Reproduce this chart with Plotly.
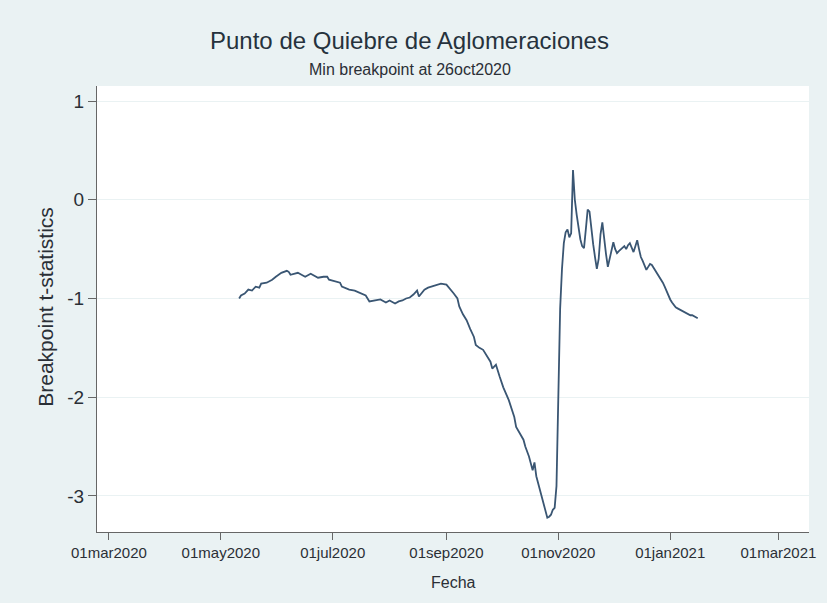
import plotly.graph_objects as go

# breakpoint t-statistic by date
fechas = [
    "2020-05-11", "2020-05-12", "2020-05-14", "2020-05-16", "2020-05-18", "2020-05-20",
    "2020-05-22", "2020-05-23", "2020-05-26", "2020-05-29", "2020-05-31", "2020-06-03",
    "2020-06-06", "2020-06-07", "2020-06-08", "2020-06-10", "2020-06-12", "2020-06-14",
    "2020-06-16", "2020-06-19", "2020-06-21", "2020-06-23", "2020-06-26", "2020-06-28",
    "2020-06-29", "2020-07-03", "2020-07-05", "2020-07-06", "2020-07-10", "2020-07-13",
    "2020-07-17", "2020-07-19", "2020-07-21", "2020-07-24", "2020-07-27", "2020-07-30",
    "2020-08-01", "2020-08-02", "2020-08-04", "2020-08-06", "2020-08-08", "2020-08-10",
    "2020-08-12", "2020-08-14", "2020-08-16", "2020-08-17", "2020-08-20", "2020-08-22",
    "2020-08-24", "2020-08-27", "2020-08-29", "2020-09-01", "2020-09-03", "2020-09-05",
    "2020-09-07", "2020-09-08", "2020-09-10", "2020-09-12", "2020-09-14", "2020-09-16",
    "2020-09-17", "2020-09-19", "2020-09-21", "2020-09-23", "2020-09-25", "2020-09-26",
    "2020-09-28", "2020-09-30", "2020-10-02", "2020-10-05", "2020-10-08", "2020-10-09",
    "2020-10-11", "2020-10-13", "2020-10-14", "2020-10-16", "2020-10-18", "2020-10-19",
    "2020-10-20", "2020-10-21", "2020-10-23", "2020-10-25", "2020-10-26", "2020-10-27",
    "2020-10-28", "2020-10-29", "2020-10-30", "2020-10-31", "2020-11-01", "2020-11-02",
    "2020-11-03", "2020-11-04", "2020-11-05", "2020-11-06", "2020-11-07", "2020-11-08",
    "2020-11-09", "2020-11-10", "2020-11-11", "2020-11-12", "2020-11-13", "2020-11-14",
    "2020-11-15", "2020-11-16", "2020-11-17", "2020-11-18", "2020-11-19", "2020-11-20",
    "2020-11-21", "2020-11-22", "2020-11-23", "2020-11-24", "2020-11-25", "2020-11-26",
    "2020-11-27", "2020-11-28", "2020-11-29", "2020-11-30", "2020-12-01", "2020-12-02",
    "2020-12-03", "2020-12-04", "2020-12-05", "2020-12-06", "2020-12-07", "2020-12-08",
    "2020-12-09", "2020-12-10", "2020-12-11", "2020-12-12", "2020-12-13", "2020-12-14",
    "2020-12-15", "2020-12-16", "2020-12-17", "2020-12-18", "2020-12-19", "2020-12-20",
    "2020-12-21", "2020-12-22", "2020-12-23", "2020-12-24", "2020-12-25", "2020-12-26",
    "2020-12-27", "2020-12-28", "2020-12-29", "2020-12-30", "2020-12-31", "2021-01-01",
    "2021-01-02", "2021-01-03", "2021-01-04", "2021-01-05", "2021-01-06", "2021-01-07",
    "2021-01-08", "2021-01-09", "2021-01-10", "2021-01-11", "2021-01-12", "2021-01-13",
    "2021-01-14", "2021-01-15", "2021-01-16",
]
tstat = [
    -1.00, -0.97, -0.95, -0.91, -0.92, -0.88,
    -0.89, -0.85, -0.84, -0.81, -0.78, -0.74,
    -0.72, -0.73, -0.76, -0.75, -0.74, -0.76,
    -0.78, -0.75, -0.77, -0.79, -0.78, -0.78,
    -0.81, -0.83, -0.84, -0.88, -0.91, -0.92,
    -0.95, -0.97, -1.03, -1.02, -1.01, -1.04,
    -1.02, -1.03, -1.05, -1.03, -1.02, -1.00,
    -0.99, -0.96, -0.92, -0.98, -0.91, -0.89,
    -0.88, -0.86, -0.85, -0.86, -0.90, -0.95,
    -1.00, -1.08, -1.16, -1.22, -1.31, -1.39,
    -1.47, -1.50, -1.52, -1.58, -1.64, -1.71,
    -1.67, -1.79, -1.90, -2.03, -2.20, -2.30,
    -2.37, -2.43, -2.50, -2.60, -2.74, -2.66,
    -2.80, -2.87, -3.00, -3.15, -3.22, -3.21,
    -3.19, -3.14, -3.12, -2.90, -2.00, -1.10,
    -0.70, -0.44, -0.33, -0.30, -0.38, -0.34,
    0.30, 0.00, -0.15, -0.28, -0.40, -0.47,
    -0.49, -0.30, -0.10, -0.12, -0.30, -0.45,
    -0.58, -0.70, -0.60, -0.35, -0.23, -0.42,
    -0.55, -0.68, -0.60, -0.50, -0.43, -0.50,
    -0.54, -0.52, -0.50, -0.49, -0.47, -0.50,
    -0.46, -0.44, -0.48, -0.53, -0.47, -0.41,
    -0.50, -0.58, -0.62, -0.66, -0.71, -0.68,
    -0.65, -0.66, -0.69, -0.72, -0.74, -0.78,
    -0.81, -0.84, -0.88, -0.93, -0.97, -1.01,
    -1.04, -1.07, -1.09, -1.10, -1.11, -1.12,
    -1.13, -1.14, -1.15, -1.16, -1.17, -1.17,
    -1.18, -1.19, -1.20,
]

x_ticks = ["2020-03-01", "2020-05-01", "2020-07-01", "2020-09-01",
           "2020-11-01", "2021-01-01", "2021-03-01"]
x_labels = ["01mar2020", "01may2020", "01jul2020", "01sep2020",
            "01nov2020", "01jan2021", "01mar2021"]
y_ticks = [-3, -2, -1, 0, 1]
y_labels = ["-3", "-2", "-1", "0", "1"]

fuente = "Liberation Sans, Arial, sans-serif"
texto = "#2a2f36"

fig = go.Figure()
fig.add_trace(go.Scatter(
    x=fechas, y=tstat, mode="lines",
    line=dict(color="#3a5673", width=1.8),
    hoverinfo="x+y", showlegend=False,
))

fig.update_layout(
    width=827, height=603,
    paper_bgcolor="#eaf2f3",
    plot_bgcolor="white",
    margin=dict(l=97, r=11, t=86, b=71),
    font=dict(family=fuente, color=texto),
    annotations=[
        dict(text="Punto de Quiebre de Aglomeraciones", xref="paper", yref="paper",
             x=0.4395, y=1.103, showarrow=False, xanchor="center", yanchor="middle",
             font=dict(size=24, color="#26323d")),
        dict(text="Min breakpoint at 26oct2020", xref="paper", yref="paper",
             x=0.4395, y=1.038, showarrow=False, xanchor="center", yanchor="middle",
             font=dict(size=16, color=texto)),
        dict(text="Breakpoint t-statistics", xref="paper", yref="paper",
             x=-0.0723, y=0.504, showarrow=False, textangle=-90,
             xanchor="center", yanchor="middle", font=dict(size=21, color=texto)),
        dict(text="Fecha", xref="paper", yref="paper",
             x=0.5, y=-0.114, showarrow=False, xanchor="center", yanchor="middle",
             font=dict(size=16, color=texto)),
    ],
)

fig.update_xaxes(
    type="date",
    range=["2020-02-23 12:00", "2021-03-17 16:00"],
    tickvals=x_ticks, ticktext=x_labels,
    ticks="outside", ticklen=7, tickcolor="#666666",
    tickfont=dict(size=15, color=texto),
    showgrid=False, zeroline=False,
    showline=True, linecolor="#666666", linewidth=1,
)
fig.update_yaxes(
    range=[-3.365, 1.152],
    tickvals=y_ticks, ticktext=y_labels,
    ticks="outside", ticklen=8, tickcolor="#666666",
    tickfont=dict(size=19, color=texto),
    showgrid=True, gridcolor="#eaf2f3", gridwidth=1,
    zeroline=False,
    showline=True, linecolor="#666666", linewidth=1,
)

# drop the page's default body margin so the figure fills the window
fig.write_html("out.html", config={"displayModeBar": False},
               post_script="document.body.style.margin='0';document.body.style.overflow='hidden';")
